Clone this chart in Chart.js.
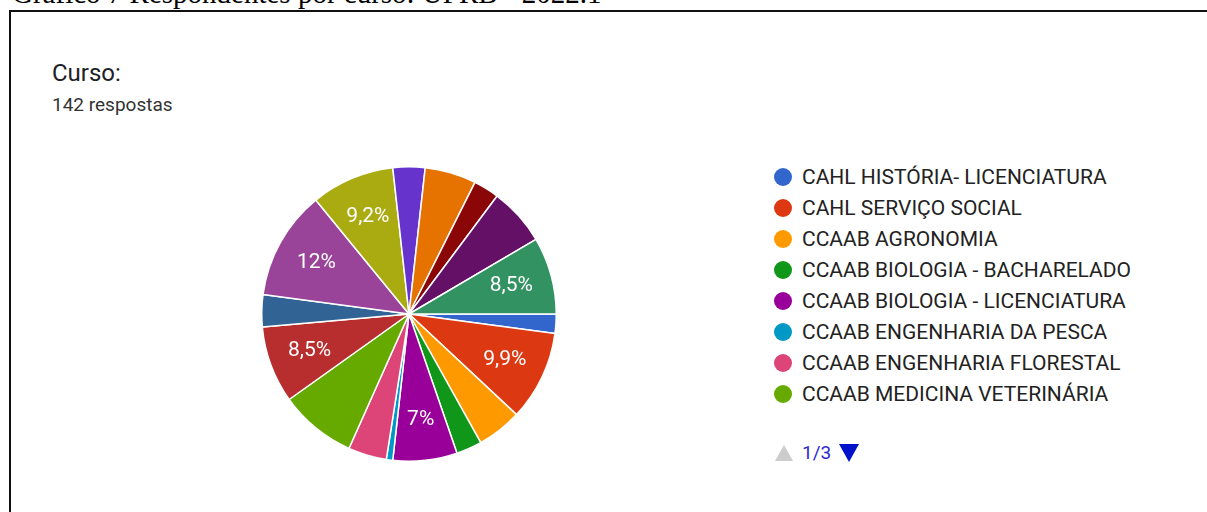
<!DOCTYPE html>
<html>
<head>
<meta charset="utf-8">
<script src="https://cdn.jsdelivr.net/npm/chart.js@4/dist/chart.umd.min.js"></script>
<style>
  body { margin: 0; background: #fff; width: 1207px; height: 512px; overflow: hidden; position: relative; font-family: Roboto, Arial, sans-serif; }
  #caption { position: absolute; left: 12px; top: -21px; font-family: "Liberation Serif", "Times New Roman", serif; font-size: 29px; line-height: 29px; color: #000; white-space: nowrap; }
  #frame { position: absolute; left: 9px; top: 10px; width: 1300px; height: 600px; border-left: 2px solid #111; border-top: 2px solid #111; }
  #title { position: absolute; left: 52px; top: 58px; font-size: 24px; line-height: 30px; color: #202124; }
  #count { position: absolute; left: 52px; top: 94px; font-size: 19px; line-height: 22px; color: #333; }
  #pie { position: absolute; left: 261px; top: 166px; }
  #legend { position: absolute; left: 774px; top: 161px; }
  .item { height: 31px; display: flex; align-items: center; font-size: 21px; color: #222; white-space: nowrap; }
  .dot { width: 18px; height: 18px; border-radius: 50%; margin-right: 10px; flex: none; }
  #pager { position: absolute; left: 775px; top: 441px; display: flex; align-items: center; }
  .up { width: 0; height: 0; border-left: 9px solid transparent; border-right: 9px solid transparent; border-bottom: 16px solid #ccc; margin-right: 9px; }
  .down { width: 0; height: 0; border-left: 10px solid transparent; border-right: 10px solid transparent; border-top: 18px solid #0011cc; margin-left: 8px; }
  #page { font-size: 19px; color: #2b2bd0; }
</style>
</head>
<body>
<div id="caption">Gráfico 7 Respondentes por curso: UFRB - 2022.1</div>
<div id="frame"></div>
<div id="title">Curso:</div>
<div id="count">142 respostas</div>
<canvas id="pie" width="296" height="296"></canvas>
<div id="legend"></div>
<div id="pager"><div class="up"></div><span id="page"></span><div class="down"></div></div>
<script>
// Courses (only the first legend page is visible in the source)
const categories = [
  'CAHL HISTÓRIA- LICENCIATURA',
  'CAHL SERVIÇO SOCIAL',
  'CCAAB AGRONOMIA',
  'CCAAB BIOLOGIA - BACHARELADO',
  'CCAAB BIOLOGIA - LICENCIATURA',
  'CCAAB ENGENHARIA DA PESCA',
  'CCAAB ENGENHARIA FLORESTAL',
  'CCAAB MEDICINA VETERINÁRIA',
  'Curso 9', 'Curso 10', 'Curso 11', 'Curso 12', 'Curso 13',
  'Curso 14', 'Curso 15', 'Curso 16', 'Curso 17', 'Curso 18'
];

// Responses per course (total 142)
const responses = [3, 14, 7, 4, 10, 1, 6, 12, 12, 5, 17, 0, 13, 5, 8, 4, 9, 12];

// Slices that carry a percentage label in the source
const showLabel = [false, true, false, false, true, false, false, false,
  true, false, true, false, true, false, false, false, false, true];

// Google Forms palette
const colors = ['#3366cc', '#dc3912', '#ff9900', '#109618', '#990099', '#0099c6',
  '#dd4477', '#66aa00', '#b82e2e', '#316395', '#994499', '#22aa99', '#aaaa11',
  '#6633cc', '#e67300', '#8b0707', '#651067', '#329262'];

const perPage = 8;
const total = responses.reduce((a, b) => a + b, 0);

function formatPercent(v) {
  let s = (v / total * 100).toPrecision(2);
  if (s.endsWith('.0')) s = s.slice(0, -2);
  return s.replace('.', ',') + '%';
}

// Percentage labels inside the slices
const sliceLabels = {
  id: 'sliceLabels',
  afterDatasetsDraw(chart) {
    const ctx = chart.ctx;
    const meta = chart.getDatasetMeta(0);
    ctx.save();
    ctx.fillStyle = '#fff';
    ctx.font = '21px Roboto, Arial, sans-serif';
    ctx.textAlign = 'center';
    ctx.textBaseline = 'middle';
    meta.data.forEach(function(arc, i) {
      if (!showLabel[i]) return;
      const p = arc.getProps(['x', 'y', 'startAngle', 'endAngle', 'outerRadius'], true);
      const mid = (p.startAngle + p.endAngle) / 2;
      const r = p.outerRadius * 0.72;
      ctx.fillText(formatPercent(responses[i]), p.x + Math.cos(mid) * r, p.y + Math.sin(mid) * r);
    });
    ctx.restore();
  }
};

new Chart(document.getElementById('pie'), {
  type: 'pie',
  data: {
    labels: categories,
    datasets: [{
      data: responses,
      backgroundColor: colors,
      borderColor: '#fff',
      borderWidth: 1.5
    }]
  },
  options: {
    responsive: false,
    animation: false,
    rotation: 90,
    layout: { padding: 0 },
    plugins: {
      legend: { display: false },
      tooltip: { enabled: true }
    }
  },
  plugins: [sliceLabels]
});

// Legend, first page only
const legend = document.getElementById('legend');
categories.slice(0, perPage).forEach(function(name, i) {
  const row = document.createElement('div');
  row.className = 'item';
  row.innerHTML = '<span class="dot" style="background:' + colors[i] + '"></span>' + name;
  legend.appendChild(row);
});
document.getElementById('page').textContent = '1/' + Math.ceil(categories.length / perPage);
</script>
</body>
</html>
